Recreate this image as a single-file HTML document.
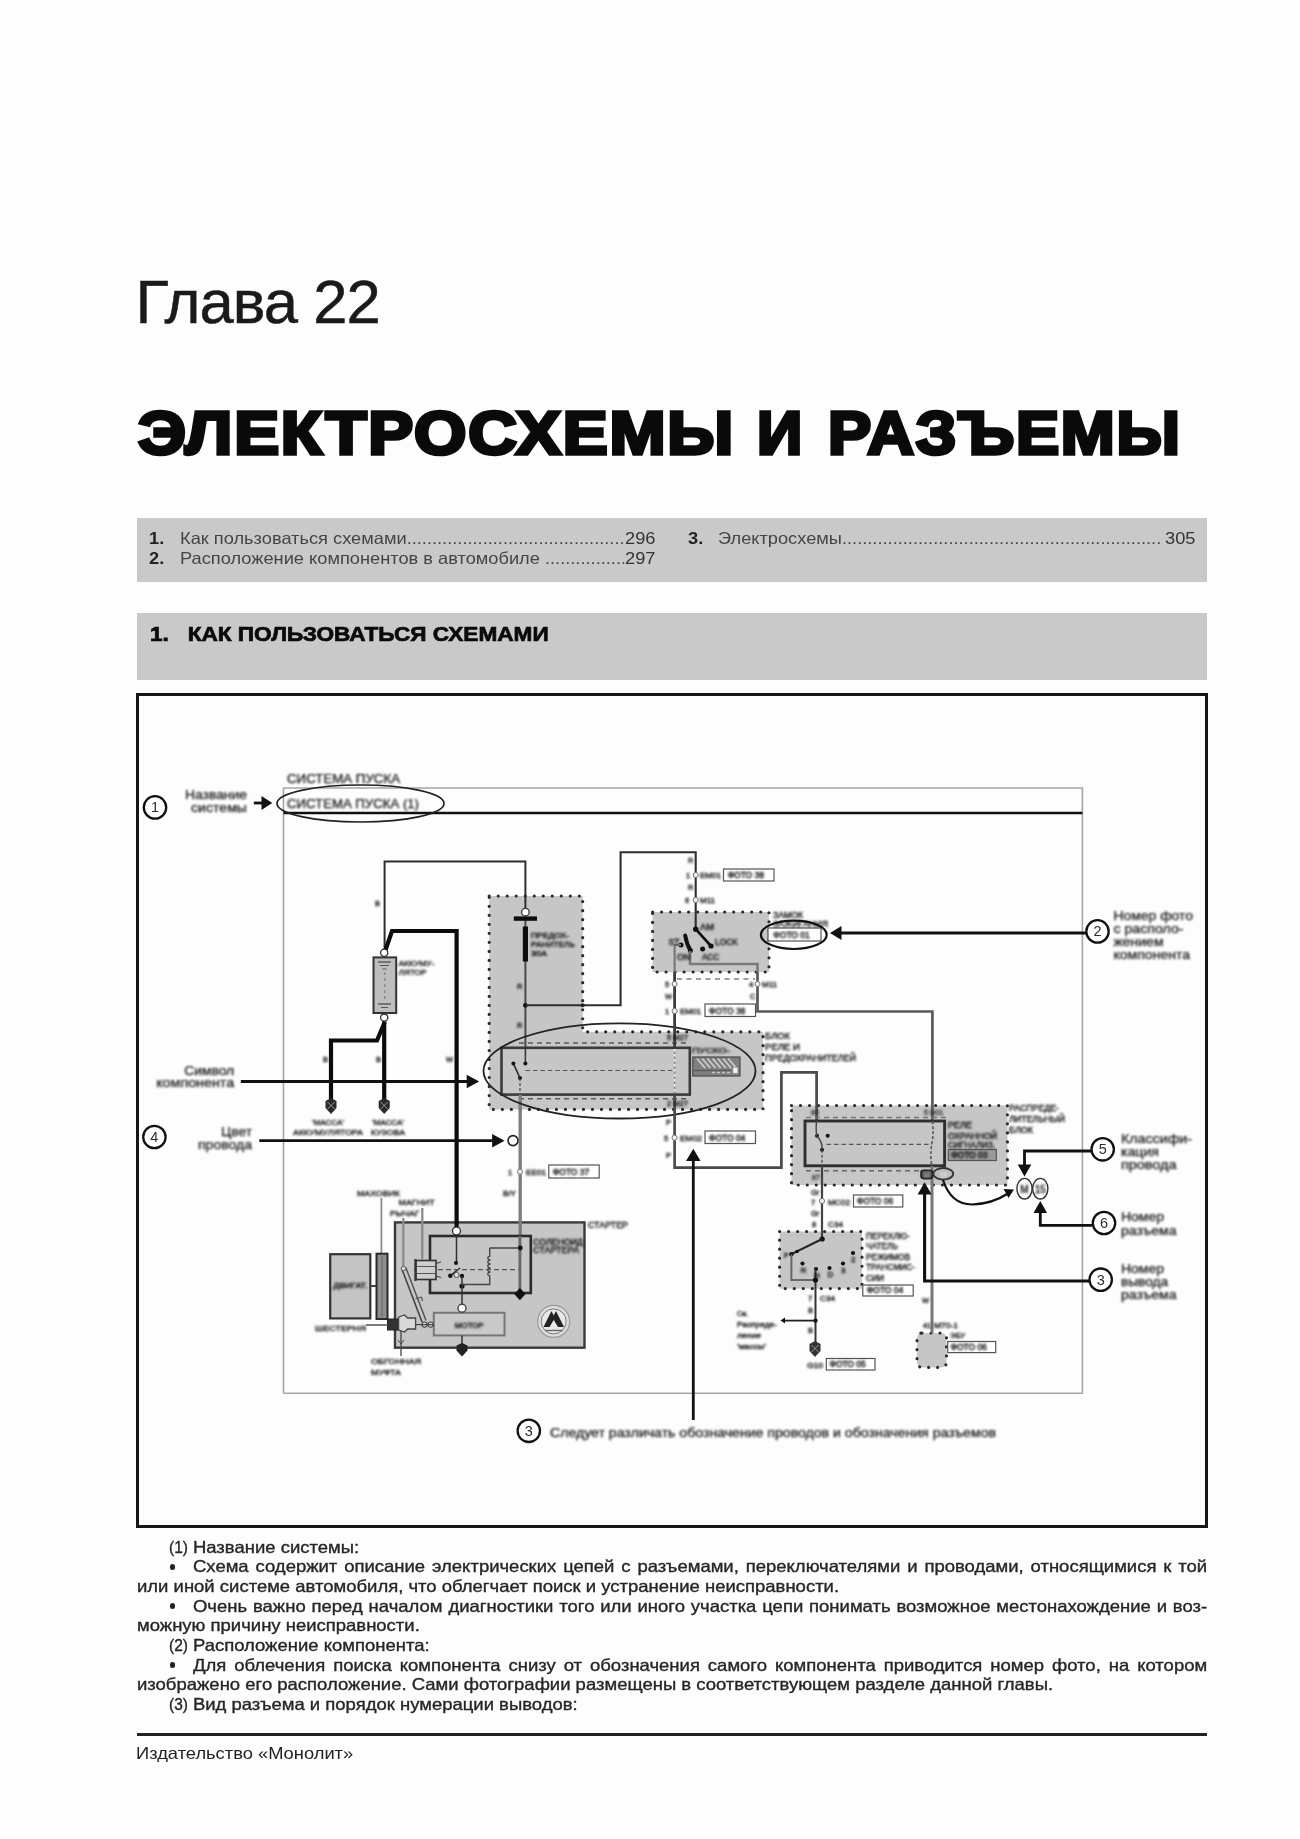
<!DOCTYPE html>
<html lang="ru">
<head>
<meta charset="utf-8">
<title>Глава 22</title>
<style>
html,body{margin:0;padding:0;background:#fdfdfd;}
body{width:1300px;height:1839px;position:relative;overflow:hidden;font-family:"Liberation Sans",sans-serif;color:#111;}
.abs{position:absolute;white-space:nowrap;}
#chap{left:135.5px;top:268px;font-size:61.5px;line-height:68px;color:#1a1a1a;letter-spacing:-0.9px;-webkit-text-stroke:0.5px #1a1a1a;}
.ttl{top:396.90px;font-size:60.7px;line-height:72px;font-weight:bold;color:#0a0a0a;transform-origin:0 0;-webkit-text-stroke:3.6px #0a0a0a;letter-spacing:1.6px;}
#toc{left:137px;top:518px;width:1070px;height:64px;background:#c9c9c9;}
#sec{left:137px;top:613px;width:1070px;height:67px;background:#c9c9c9;}
#frame{left:135.8px;top:692.5px;width:1066.5px;height:829px;border:3px solid #161616;box-sizing:content-box;}
.t16{font-size:16.5px;line-height:19px;transform:scaleX(1.1055);transform-origin:0 0;}
.bd{color:#262626;transform:scaleX(1.12);-webkit-text-stroke:0.35px #262626;}
.bd i{font-style:normal;margin-right:-3.4px;display:inline-block;transform:scaleX(0.84);transform-origin:0 0;}
.bl{width:5.4px;height:5.4px;margin:-0.4px 0 0 -0.4px;border-radius:50%;background:#222;}
.jl{text-align:justify;text-align-last:justify;white-space:normal;height:19px;overflow:hidden;}
#sech{left:150px;top:621px;font-size:20px;line-height:26px;font-weight:bold;color:#0a0a0a;-webkit-text-stroke:0.7px #0a0a0a;transform:scaleX(1.13);transform-origin:0 0;}
#dg{}
#footline{left:137px;top:1733.3px;width:1070px;height:2.5px;background:#222;}
#foot{left:135.5px;top:1743.9px;font-size:16.5px;line-height:18px;color:#222;transform:scaleX(1.11);transform-origin:0 0;}
</style>
</head>
<body>
<div class="abs" id="chap">Глава 22</div>
<div class="abs ttl" style="left:137.50px;transform:scaleX(1.1096);">ЭЛЕКТРОСХЕМЫ</div>
<div class="abs ttl" style="left:757.22px;transform:scaleX(1.0369);">И</div>
<div class="abs ttl" style="left:828.43px;transform:scaleX(1.0665);">РАЗЪЕМЫ</div>
<div class="abs" id="toc"></div>
<div class="abs" id="sec"></div>
<div class="abs" id="sech">1.&nbsp;&nbsp; КАК ПОЛЬЗОВАТЬСЯ СХЕМАМИ</div>
<div class="abs" id="frame"></div>
<!--DG0--><svg class="abs" id="dg" style="left:0;top:0" width="1300" height="1839" viewBox="0 0 1300 1839" font-family="Liberation Sans, sans-serif">
<path d="M283.5 1393.2 L283.5 788.0 L1082.4 788.0 L1082.4 1393.2 L283.5 1393.2" fill="none" stroke="#a6a6a6" stroke-width="1.6" />
<path d="M283.5 813.0 L1082.4 813.0" fill="none" stroke="#111" stroke-width="2.6" />
<ellipse cx="360.5" cy="803.5" rx="83.5" ry="18.5" fill="none" stroke="#222" stroke-width="1.7"/>
<circle cx="155.0" cy="807.4" r="11.2" fill="#fff" stroke="#111" stroke-width="2.3"/>
<text x="155.0" y="812.4" font-size="14.5" text-anchor="middle" fill="#2a2a2a" opacity=".99">1</text>
<path d="M253.8 803.0 L264.0 803.0" fill="none" stroke="#111" stroke-width="2.8" />
<polygon points="272.3,803.0 261.5,796.0 261.5,810.0" fill="#111"/>
<path d="M489.2 896 H582.7 V1031.8 H763 V1109.4 H489.2 Z" fill="#c6c6c6" stroke="#2a2a2a" stroke-width="3.2" stroke-dasharray="0.01 9" stroke-linecap="round"/>
<rect x="652.6" y="912.0" width="116.4" height="60.0" fill="#c6c6c6" stroke="#2a2a2a" stroke-width="3.2" stroke-dasharray="0.01 9" stroke-linecap="round"/>
<rect x="791.5" y="1105.5" width="215.9" height="79.5" fill="#c6c6c6" stroke="#2a2a2a" stroke-width="3.2" stroke-dasharray="0.01 9" stroke-linecap="round"/>
<rect x="779.6" y="1231.5" width="82.4" height="57.1" fill="#c6c6c6" stroke="#2a2a2a" stroke-width="3.2" stroke-dasharray="0.01 9" stroke-linecap="round"/>
<rect x="917" y="1333" width="29.5" height="34.4" rx="5" fill="#c6c6c6" stroke="#2a2a2a" stroke-width="3.1" stroke-dasharray="0.01 9" stroke-linecap="round"/>
<rect x="395.0" y="1222.4" width="189.5" height="125.3" fill="#c6c6c6" stroke="#3a3a3a" stroke-width="2.4" />
<path d="M384.6 950.0 L384.6 861.5 L525.4 861.5 L525.4 909.0" fill="none" stroke="#2e2e2e" stroke-width="2" />
<path d="M385.5 950.0 L392.0 931.0 L456.6 931.0 L456.6 1227.0" fill="none" stroke="#0c0c0c" stroke-width="4.2" stroke-linejoin="miter"/>
<rect x="373.5" y="957.4" width="22.7" height="55.6" fill="#bdbdbd" stroke="#333" stroke-width="2" />
<path d="M378.0 962.0 L391.0 962.0" fill="none" stroke="#444" stroke-width="1.2" />
<path d="M380.0 965.5 L389.0 965.5" fill="none" stroke="#555" stroke-width="1" />
<path d="M382.5 969.0 L386.5 969.0" fill="none" stroke="#555" stroke-width="1" />
<path d="M384.8 972.0 L384.8 1000.0" fill="none" stroke="#777" stroke-width="1" stroke-dasharray="3 3"/>
<path d="M378.0 1004.0 L391.0 1004.0" fill="none" stroke="#444" stroke-width="1.2" />
<path d="M381.0 1007.5 L388.0 1007.5" fill="none" stroke="#555" stroke-width="1" />
<circle cx="384.2" cy="952.8" r="3.6" fill="#fff" stroke="#333" stroke-width="1.3"/>
<circle cx="384.2" cy="1017.6" r="3.6" fill="#fff" stroke="#333" stroke-width="1.3"/>
<path d="M384.2 1021.5 L384.2 1100.0" fill="none" stroke="#0c0c0c" stroke-width="4.2" />
<path d="M384.8 1022.0 L377.0 1040.5 L331.0 1040.5 L331.0 1100.0" fill="none" stroke="#0c0c0c" stroke-width="4.2" stroke-linejoin="miter"/>
<path d="M331.0 1098 l5.5 3 v7 l-5.5 6 l-5.5 -6 v-7 z" fill="#2a2a2a"/>
<path d="M327.5 1102.0 L334.5 1109.0" fill="none" stroke="#999" stroke-width="1" />
<path d="M334.5 1102.0 L327.5 1109.0" fill="none" stroke="#999" stroke-width="1" />
<path d="M384.2 1098 l5.5 3 v7 l-5.5 6 l-5.5 -6 v-7 z" fill="#2a2a2a"/>
<path d="M380.7 1102.0 L387.7 1109.0" fill="none" stroke="#999" stroke-width="1" />
<path d="M387.7 1102.0 L380.7 1109.0" fill="none" stroke="#999" stroke-width="1" />
<path d="M525.4 916.0 L525.4 1048.0" fill="none" stroke="#4a4a4a" stroke-width="2" />
<path d="M513.8 918.6 L537.0 918.6" fill="none" stroke="#0c0c0c" stroke-width="4.4" />
<path d="M525.4 926.5 L525.4 961.5" fill="none" stroke="#0c0c0c" stroke-width="5.2" />
<circle cx="525.4" cy="912.2" r="3.8" fill="#fff" stroke="#333" stroke-width="1.3"/>
<circle cx="525.4" cy="1005.3" r="2.4" fill="#111"/>
<path d="M525.4 1005.3 L620.6 1005.3 L620.6 852.2 L695.7 852.2 L695.7 929.0" fill="none" stroke="#2e2e2e" stroke-width="2.1" />
<circle cx="582.7" cy="1005.3" r="2.0" fill="#222"/>
<path d="M519.0 1043.0 L690.0 1043.0" fill="none" stroke="#5a5a5a" stroke-width="1.5" stroke-dasharray="5 4"/>
<path d="M519.0 1098.8 L690.0 1098.8" fill="none" stroke="#5a5a5a" stroke-width="1.5" stroke-dasharray="5 4"/>
<rect x="501.5" y="1047.8" width="188.3" height="46.8" fill="none" stroke="#3a3a3a" stroke-width="2.6" />
<path d="M525.4 1048.0 L525.4 1063.5" fill="none" stroke="#333" stroke-width="1.5" />
<circle cx="525.4" cy="1063.5" r="2.0" fill="#111"/>
<circle cx="513.4" cy="1063.5" r="2.0" fill="#111"/>
<circle cx="520.0" cy="1078.0" r="2.0" fill="#111"/>
<path d="M513.4 1063.5 L520.0 1078.0" fill="none" stroke="#222" stroke-width="1.6" />
<path d="M520.0 1078.0 L520.0 1094.0" fill="none" stroke="#444" stroke-width="1.2" stroke-dasharray="3 2"/>
<path d="M525.4 1070.5 L676.0 1070.5" fill="none" stroke="#555" stroke-width="1.2" stroke-dasharray="4.5 3"/>
<path d="M674.6 1049.0 L674.6 1093.0" fill="none" stroke="#888" stroke-width="1.4" />
<path d="M674.6 1049.0 L674.6 1093.0" fill="none" stroke="#eee" stroke-width="1.8" stroke-dasharray="2.5 2.5"/>
<path d="M520.2 1094.6 L520.2 1236.0" fill="none" stroke="#7c7c7c" stroke-width="3.3" />
<ellipse cx="619.5" cy="1070.9" rx="136.0" ry="47.6" fill="none" stroke="#222" stroke-width="1.8"/>
<rect x="692.8" y="1057.0" width="47.2" height="19.0" fill="#808080" stroke="#4a4a4a" stroke-width="1.2" />
<path d="M697.0 1058.5 L705.0 1068.0" fill="none" stroke="#d0d0d0" stroke-width="1.6" />
<path d="M702.2 1058.5 L710.2 1068.0" fill="none" stroke="#d0d0d0" stroke-width="1.6" />
<path d="M707.4 1058.5 L715.4 1068.0" fill="none" stroke="#d0d0d0" stroke-width="1.6" />
<path d="M712.6 1058.5 L720.6 1068.0" fill="none" stroke="#d0d0d0" stroke-width="1.6" />
<path d="M717.8 1058.5 L725.8 1068.0" fill="none" stroke="#d0d0d0" stroke-width="1.6" />
<path d="M723.0 1058.5 L731.0 1068.0" fill="none" stroke="#d0d0d0" stroke-width="1.6" />
<path d="M728.2 1058.5 L736.2 1068.0" fill="none" stroke="#d0d0d0" stroke-width="1.6" />
<path d="M694.0 1070.5 L731.0 1070.5" fill="none" stroke="#5a5a5a" stroke-width="1.6" />
<path d="M712.0 1072.5 L731.0 1072.5" fill="none" stroke="#c8c8c8" stroke-width="1.4" stroke-dasharray="3 2"/>
<rect x="733.0" y="1067.5" width="4.8" height="5.7" fill="#f4f4f4" stroke="#999" stroke-width="0.6" />
<circle cx="513.0" cy="1140.6" r="5.0" fill="#fff" stroke="#222" stroke-width="1.6"/>
<circle cx="520.0" cy="1171.7" r="2.6" fill="#eee" stroke="#777" stroke-width="1"/>
<rect x="548.8" y="1165.0" width="50.4" height="13.0" fill="#fff" stroke="#555" stroke-width="1.2" />
<circle cx="695.7" cy="875.0" r="2.6" fill="#eee" stroke="#777" stroke-width="1"/>
<rect x="723.5" y="869.0" width="50.5" height="12.0" fill="#fff" stroke="#555" stroke-width="1.2" />
<circle cx="695.7" cy="900.0" r="2.6" fill="#eee" stroke="#777" stroke-width="1"/>
<circle cx="695.7" cy="929.2" r="2.7" fill="#111"/>
<path d="M695.7 929.2 L711.0 946.0" fill="none" stroke="#111" stroke-width="2.6" />
<circle cx="681.0" cy="945.0" r="2.5" fill="#111"/>
<path d="M685.2 935.5 Q686.5 944 690.5 950.5" fill="none" stroke="#111" stroke-width="4" stroke-linecap="round"/>
<circle cx="690.3" cy="950.5" r="2.5" fill="#111"/>
<circle cx="702.6" cy="949.0" r="2.5" fill="#111"/>
<circle cx="711.0" cy="946.0" r="2.6" fill="#111"/>
<path d="M681.0 945.0 L674.6 945.0 L674.6 1236.0" fill="none" stroke="none" stroke-width="0" />
<path d="M681.0 945.0 L674.6 945.0 L674.6 972.0" fill="none" stroke="#7a7a7a" stroke-width="2.2" />
<path d="M674.6 972.0 L674.6 1047.0" fill="none" stroke="#3c3c3c" stroke-width="2.8" />
<path d="M674.6 1095.0 L674.6 1167.7 L781.4 1167.7 L781.4 1072.3 L816.6 1072.3 L816.6 1121.0" fill="none" stroke="#4a4a4a" stroke-width="2.7" />
<path d="M690.0 951.0 L690.0 964.0 L757.5 964.0 L757.5 972.0" fill="none" stroke="#7a7a7a" stroke-width="2.5" />
<path d="M757.5 972.0 L757.5 1011.5 L932.4 1011.5 L932.4 1121.0" fill="none" stroke="#5a5a5a" stroke-width="2.7" />
<path d="M677.0 979.0 L755.0 979.0" fill="none" stroke="#808080" stroke-width="1.6" stroke-dasharray="5 4.5"/>
<circle cx="674.6" cy="984.0" r="2.6" fill="#eee" stroke="#777" stroke-width="1"/>
<circle cx="757.5" cy="984.0" r="2.6" fill="#eee" stroke="#777" stroke-width="1"/>
<circle cx="674.6" cy="1011.0" r="2.6" fill="#eee" stroke="#777" stroke-width="1"/>
<rect x="705.0" y="1004.0" width="50.5" height="12.5" fill="#fff" stroke="#555" stroke-width="1.2" />
<circle cx="674.6" cy="1137.7" r="2.6" fill="#eee" stroke="#777" stroke-width="1"/>
<rect x="705.0" y="1131.0" width="50.5" height="12.5" fill="#fff" stroke="#555" stroke-width="1.2" />
<rect x="768.0" y="928.0" width="53.0" height="13.0" fill="#fff" stroke="#555" stroke-width="1.2" />
<ellipse cx="793.8" cy="934.8" rx="32.9" ry="14.2" fill="none" stroke="#111" stroke-width="2.2"/>
<path d="M1086.0 933.0 L840.0 933.0" fill="none" stroke="#111" stroke-width="2.8" />
<polygon points="830.0,933.0 841.5,926.0 841.5,940.0" fill="#111"/>
<circle cx="1097.5" cy="931.4" r="11.2" fill="#fff" stroke="#111" stroke-width="2.3"/>
<text x="1097.5" y="936.4" font-size="14.5" text-anchor="middle" fill="#2a2a2a" opacity=".99">2</text>
<path d="M806.0 1117.5 L946.0 1117.5" fill="none" stroke="#777" stroke-width="1.3" stroke-dasharray="5 4"/>
<path d="M806.0 1170.8 L921.0 1170.8" fill="none" stroke="#666" stroke-width="1.4" stroke-dasharray="5 4"/>
<rect x="805.0" y="1121.0" width="139.6" height="44.8" fill="none" stroke="#2e2e2e" stroke-width="2.9" />
<path d="M826.5 1144.4 L932.0 1144.4" fill="none" stroke="#555" stroke-width="1.2" stroke-dasharray="4.5 3"/>
<circle cx="817.0" cy="1135.8" r="2.0" fill="#111"/>
<circle cx="827.7" cy="1135.8" r="2.0" fill="#111"/>
<circle cx="822.0" cy="1149.8" r="2.0" fill="#111"/>
<path d="M816.6 1121 Q815.5 1130 817 1135.8 Q823 1143 822 1149.8" fill="none" stroke="#444" stroke-width="1.4"/>
<path d="M822.0 1149.8 L822.0 1165.0" fill="none" stroke="#444" stroke-width="1.2" stroke-dasharray="3 2"/>
<path d="M932.4 1121 Q934 1135 931.5 1145 Q930 1158 932 1166" fill="none" stroke="#555" stroke-width="1.6" stroke-dasharray="3 2"/>
<rect x="948.3" y="1149.5" width="48.0" height="11.0" fill="#9a9a9a" stroke="#555" stroke-width="1.2" />
<path d="M822.0 1165.8 L822.0 1239.0" fill="none" stroke="#444" stroke-width="2.2" />
<circle cx="822.0" cy="1201.0" r="2.6" fill="#eee" stroke="#777" stroke-width="1"/>
<rect x="853.5" y="1195.0" width="49.3" height="12.0" fill="#fff" stroke="#555" stroke-width="1.2" />
<path d="M932.0 1166.0 L932.0 1333.0" fill="none" stroke="#777" stroke-width="3" />
<rect x="921" y="1170.3" width="11.5" height="8.3" rx="2.5" fill="#4a4a4a" stroke="#222" stroke-width="1.6"/>
<ellipse cx="943.3" cy="1173.8" rx="9.9" ry="5.8" fill="#bdbdbd" stroke="#333" stroke-width="1.8"/>
<path d="M943 1180 Q951 1204.5 972 1204.5 Q992 1204 1008 1193.5" fill="none" stroke="#111" stroke-width="2.2"/>
<polygon points="1014.0,1189.5 1003.5,1189.0 1008.5,1198.0" fill="#111"/>
<ellipse cx="1024.5" cy="1188.7" rx="7.6" ry="10.3" fill="#fff" stroke="#333" stroke-width="1.4"/>
<ellipse cx="1040.3" cy="1188.7" rx="7.6" ry="10.3" fill="#fff" stroke="#333" stroke-width="1.4"/>
<path d="M1091.0 1151.0 L1024.5 1151.0 L1024.5 1166.0" fill="none" stroke="#111" stroke-width="2.8" stroke-linejoin="miter"/>
<polygon points="1024.5,1176.5 1017.7,1164.5 1031.3,1164.5" fill="#111"/>
<circle cx="1102.7" cy="1149.3" r="11.2" fill="#fff" stroke="#111" stroke-width="2.3"/>
<text x="1102.7" y="1154.3" font-size="14.5" text-anchor="middle" fill="#2a2a2a" opacity=".99">5</text>
<path d="M1092.0 1225.3 L1040.3 1225.3 L1040.3 1211.0" fill="none" stroke="#111" stroke-width="2.8" stroke-linejoin="miter"/>
<polygon points="1040.3,1201.0 1033.5,1213.0 1047.1,1213.0" fill="#111"/>
<circle cx="1104.0" cy="1223.0" r="11.2" fill="#fff" stroke="#111" stroke-width="2.3"/>
<text x="1104.0" y="1228.0" font-size="14.5" text-anchor="middle" fill="#2a2a2a" opacity=".99">6</text>
<path d="M1089.0 1281.0 L924.6 1281.0 L924.6 1193.0" fill="none" stroke="#111" stroke-width="3.1" stroke-linejoin="miter"/>
<polygon points="924.6,1182.3 917.6,1194.5 931.6,1194.5" fill="#111"/>
<circle cx="1100.7" cy="1279.7" r="11.2" fill="#fff" stroke="#111" stroke-width="2.3"/>
<text x="1100.7" y="1284.7" font-size="14.5" text-anchor="middle" fill="#2a2a2a" opacity=".99">3</text>
<circle cx="822.2" cy="1239.0" r="2.6" fill="#111"/>
<path d="M822.2 1239.0 L791.4 1254.2" fill="none" stroke="#222" stroke-width="2" />
<circle cx="791.4" cy="1254.2" r="2.2" fill="#111"/>
<circle cx="797.0" cy="1251.5" r="1.8" fill="#111"/>
<circle cx="802.5" cy="1263.5" r="2.1" fill="#111"/>
<circle cx="816.0" cy="1269.0" r="2.1" fill="#111"/>
<circle cx="829.5" cy="1268.0" r="2.1" fill="#111"/>
<circle cx="843.0" cy="1263.5" r="2.1" fill="#111"/>
<circle cx="853.0" cy="1253.0" r="2.1" fill="#111"/>
<path d="M791.4 1254.2 L791.4 1280.0 L815.5 1280.0" fill="none" stroke="#666" stroke-width="2" />
<path d="M815.5 1269.0 L815.5 1345.0" fill="none" stroke="#333" stroke-width="2" />
<circle cx="815.5" cy="1280.0" r="2.6" fill="#111"/>
<rect x="862.8" y="1285.0" width="50.4" height="11.0" fill="#fff" stroke="#555" stroke-width="1.2" />
<circle cx="815.5" cy="1320.6" r="2.2" fill="#111"/>
<path d="M815.5 1320.6 L784.0 1320.6" fill="none" stroke="#222" stroke-width="1.8" />
<polygon points="780.5,1320.6 785.0,1317.6 785.0,1323.6" fill="#111"/>
<path d="M815 1341 l5.5 3 v7 l-5.5 6 l-5.5 -6 v-7 z" fill="#333"/>
<path d="M811.5 1345.0 L818.5 1352.0" fill="none" stroke="#999" stroke-width="1" />
<path d="M818.5 1345.0 L811.5 1352.0" fill="none" stroke="#999" stroke-width="1" />
<rect x="826.3" y="1358.5" width="48.7" height="11.5" fill="#fff" stroke="#555" stroke-width="1.2" />
<rect x="947.7" y="1341.5" width="48.0" height="11.1" fill="#fff" stroke="#555" stroke-width="1.2" />
<rect x="430.0" y="1236.0" width="100.8" height="57.0" fill="none" stroke="#2a2a2a" stroke-width="2.6" />
<circle cx="456.5" cy="1231.0" r="4.0" fill="#fff" stroke="#333" stroke-width="1.4"/>
<path d="M456.5 1235.0 L456.5 1263.0" fill="none" stroke="#333" stroke-width="1.5" />
<circle cx="456.0" cy="1263.0" r="2.0" fill="#111"/>
<circle cx="450.3" cy="1275.8" r="2.2" fill="#111"/>
<circle cx="462.0" cy="1276.0" r="2.2" fill="#111"/>
<circle cx="462.0" cy="1286.0" r="2.6" fill="#111"/>
<path d="M450.3 1275.8 L460.0 1268.0" fill="none" stroke="#222" stroke-width="1.5" />
<circle cx="456.5" cy="1275.0" r="2.6" fill="#ddd" stroke="#555" stroke-width="1"/>
<path d="M462.0 1276.0 L462.0 1304.0" fill="none" stroke="#333" stroke-width="1.5" />
<path d="M520.5 1248.0 L489.7 1248.0" fill="none" stroke="#444" stroke-width="1.5" />
<path d="M489.7 1248 v8 q-4 2 0 4 q-4 2 0 4 q-4 2 0 4 q-4 2 0 4 q-4 2 0 4 v8.5 H462" fill="none" stroke="#444" stroke-width="1.4"/>
<path d="M414.0 1269.7 L520.0 1269.7" fill="none" stroke="#555" stroke-width="1.2" stroke-dasharray="5 3"/>
<path d="M519.9 1236.0 L519.9 1293.0" fill="none" stroke="#6a6a6a" stroke-width="3" />
<circle cx="520.3" cy="1248.0" r="2.4" fill="#111"/>
<polygon points="519.9,1288.0 525.6,1294.0 519.9,1300.3 514.2,1294.0" fill="#111"/>
<rect x="416.0" y="1260.5" width="20.0" height="19.0" fill="#cfcfcf" stroke="#333" stroke-width="1.6" />
<path d="M415.4 1259.0 L415.4 1281.0" fill="none" stroke="#333" stroke-width="2.2" />
<path d="M417.0 1266.5 L435.0 1266.5" fill="none" stroke="#555" stroke-width="1" />
<path d="M417.0 1273.5 L435.0 1273.5" fill="none" stroke="#555" stroke-width="1" />
<path d="M436.0 1263.5 L441.0 1262.0" fill="none" stroke="#444" stroke-width="1.2" />
<path d="M436.0 1276.0 L441.0 1277.5" fill="none" stroke="#444" stroke-width="1.2" />
<path d="M401.5 1268.0 L422.0 1322.0" fill="none" stroke="#444" stroke-width="1.6" />
<path d="M405.8 1267.5 L426.0 1320.5" fill="none" stroke="#555" stroke-width="1.5" />
<circle cx="403.5" cy="1268.5" r="2.2" fill="#ddd" stroke="#555" stroke-width="1"/>
<path d="M415.5 1299.0 L421.5 1297.0" fill="none" stroke="#555" stroke-width="1.1" />
<path d="M421.5 1297.0 L422.5 1301.0" fill="none" stroke="#555" stroke-width="1.1" />
<path d="M403.3 1218.0 L403.3 1266.0" fill="none" stroke="#8c8c8c" stroke-width="2.3" />
<path d="M422.3 1208.0 L422.3 1260.0" fill="none" stroke="#8c8c8c" stroke-width="2.3" />
<path d="M381.4 1198.0 L381.4 1254.0" fill="none" stroke="#8c8c8c" stroke-width="1.8" />
<rect x="433.8" y="1312.8" width="70.7" height="22.6" fill="#c9c9c9" stroke="#777" stroke-width="2" />
<circle cx="462.0" cy="1308.3" r="4.0" fill="#fff" stroke="#444" stroke-width="1.4"/>
<path d="M462.0 1335.4 L462.0 1346.0" fill="none" stroke="#333" stroke-width="1.5" />
<path d="M462 1343 l5.5 2.5 v5 l-5.5 6 l-5.5 -6 v-5 z" fill="#222"/>
<rect x="330.2" y="1254.2" width="40.1" height="64.2" fill="#c4c4c4" stroke="#333" stroke-width="2.2" />
<path d="M370.3 1286.0 L376.5 1286.0" fill="none" stroke="#444" stroke-width="2" />
<rect x="376.5" y="1253.7" width="11.0" height="65.3" fill="#8e8e8e" stroke="#2a2a2a" stroke-width="2" />
<path d="M382.0 1256.0 L382.0 1317.0" fill="none" stroke="#666" stroke-width="1" />
<rect x="387.5" y="1319.0" width="11.1" height="11.0" fill="#333" stroke="#222" stroke-width="1" />
<path d="M366.0 1325.0 L388.0 1325.0" fill="none" stroke="#444" stroke-width="1.4" />
<path d="M398.6 1317 l6 -2 l3 3 h8 v11 h-8 l-3 3 l-6 -2 z" fill="#d8d8d8" stroke="#444" stroke-width="1.3"/>
<circle cx="424.5" cy="1324.6" r="2.6" fill="#ddd" stroke="#444" stroke-width="1.1"/>
<circle cx="430.6" cy="1324.6" r="2.6" fill="#ddd" stroke="#444" stroke-width="1.1"/>
<path d="M416.0 1324.6 L434.0 1324.6" fill="none" stroke="#444" stroke-width="1.2" />
<path d="M401.0 1331.0 L401.0 1356.0" fill="none" stroke="#444" stroke-width="1.3" />
<path d="M398.0 1340.0 L401.0 1344.0 L404.0 1340.0" fill="none" stroke="#444" stroke-width="1" />
<circle cx="553.7" cy="1321.4" r="16.0" fill="#dcdcdc" stroke="#999" stroke-width="1.2"/>
<circle cx="553.7" cy="1321.4" r="12.5" fill="#e8e8e8" stroke="#777" stroke-width="1"/>
<path d="M543.5 1327 L551.5 1311 L553.7 1315.5 L556 1311 L564 1327 L558 1327 L553.7 1320 L549.5 1327 Z" fill="#222"/>
<path d="M545.0 1330.5 L562.5 1330.5" fill="none" stroke="#666" stroke-width="1.4" />
<path d="M240.8 1081.5 L467.7 1081.5" fill="none" stroke="#111" stroke-width="2.8" />
<polygon points="479.2,1081.5 466.7,1074.7 466.7,1088.3" fill="#111"/>
<circle cx="154.4" cy="1137.0" r="11.2" fill="#fff" stroke="#111" stroke-width="2.3"/>
<text x="154.4" y="1142.0" font-size="14.5" text-anchor="middle" fill="#2a2a2a" opacity=".99">4</text>
<path d="M259.3 1140.7 L493.1 1140.7" fill="none" stroke="#111" stroke-width="2.8" />
<polygon points="504.6,1140.7 492.1,1133.9 492.1,1147.5" fill="#111"/>
<path d="M693.3 1420.0 L693.3 1159.0" fill="none" stroke="#111" stroke-width="2.8" />
<polygon points="693.3,1148.8 686.0,1161.0 700.6,1161.0" fill="#111"/>
<circle cx="528.8" cy="1430.8" r="11.2" fill="#fff" stroke="#111" stroke-width="2.3"/>
<text x="528.8" y="1435.8" font-size="14.5" text-anchor="middle" fill="#2a2a2a" opacity=".99">3</text>
<g style="filter:blur(0.8px)">
<text x="287.0" y="783.0" font-size="13" text-anchor="start" fill="#101010" textLength="113.0" lengthAdjust="spacingAndGlyphs" stroke="#101010" stroke-width="0.25">СИСТЕМА ПУСКА</text>
<text x="287.0" y="808.0" font-size="13" text-anchor="start" fill="#101010" textLength="132.0" lengthAdjust="spacingAndGlyphs" stroke="#101010" stroke-width="0.25">СИСТЕМА ПУСКА (1)</text>
<text x="247.0" y="799.0" font-size="13" text-anchor="end" fill="#141414" textLength="62.0" lengthAdjust="spacingAndGlyphs" stroke="#141414" stroke-width="0.25">Название</text>
<text x="247.0" y="812.0" font-size="13" text-anchor="end" fill="#141414" textLength="56.0" lengthAdjust="spacingAndGlyphs" stroke="#141414" stroke-width="0.25">системы</text>
<text x="375.0" y="906.0" font-size="7.5" text-anchor="start" fill="#141414" stroke="#141414" stroke-width="0.35">B</text>
<text x="398.5" y="966.0" font-size="8" text-anchor="start" fill="#141414" textLength="36.0" lengthAdjust="spacingAndGlyphs" stroke="#141414" stroke-width="0.35">АККУМУ-</text>
<text x="398.5" y="975.0" font-size="8" text-anchor="start" fill="#141414" textLength="28.0" lengthAdjust="spacingAndGlyphs" stroke="#141414" stroke-width="0.35">ЛЯТОР</text>
<text x="323.0" y="1062.0" font-size="7.5" text-anchor="start" fill="#141414" stroke="#141414" stroke-width="0.35">B</text>
<text x="376.0" y="1062.0" font-size="7.5" text-anchor="start" fill="#141414" stroke="#141414" stroke-width="0.35">B</text>
<text x="446.0" y="1062.0" font-size="7.5" text-anchor="start" fill="#141414" stroke="#141414" stroke-width="0.35">W</text>
<text x="328.0" y="1124.5" font-size="8" text-anchor="middle" fill="#141414" textLength="32.0" lengthAdjust="spacingAndGlyphs" stroke="#141414" stroke-width="0.35">'МАССА'</text>
<text x="328.0" y="1135.0" font-size="8" text-anchor="middle" fill="#141414" textLength="70.0" lengthAdjust="spacingAndGlyphs" stroke="#141414" stroke-width="0.35">АККУМУЛЯТОРА</text>
<text x="388.0" y="1124.5" font-size="8" text-anchor="middle" fill="#141414" textLength="32.0" lengthAdjust="spacingAndGlyphs" stroke="#141414" stroke-width="0.35">'МАССА'</text>
<text x="388.0" y="1135.0" font-size="8" text-anchor="middle" fill="#141414" textLength="34.0" lengthAdjust="spacingAndGlyphs" stroke="#141414" stroke-width="0.35">КУЗОВА</text>
<text x="531.0" y="938.0" font-size="8" text-anchor="start" fill="#0c0c0c" textLength="38.0" lengthAdjust="spacingAndGlyphs" stroke="#0c0c0c" stroke-width="0.35">ПРЕДОХ-</text>
<text x="531.0" y="947.0" font-size="8" text-anchor="start" fill="#0c0c0c" textLength="44.0" lengthAdjust="spacingAndGlyphs" stroke="#0c0c0c" stroke-width="0.35">РАНИТЕЛЬ</text>
<text x="531.0" y="956.0" font-size="8" text-anchor="start" fill="#0c0c0c" textLength="16.0" lengthAdjust="spacingAndGlyphs" stroke="#0c0c0c" stroke-width="0.35">30А</text>
<text x="517.0" y="989.0" font-size="7.5" text-anchor="start" fill="#141414" stroke="#141414" stroke-width="0.35">R</text>
<text x="517.0" y="1028.0" font-size="7.5" text-anchor="start" fill="#141414" stroke="#141414" stroke-width="0.35">R</text>
<text x="692.0" y="1053.0" font-size="8" text-anchor="start" fill="#141414" textLength="38.0" lengthAdjust="spacingAndGlyphs" stroke="#141414" stroke-width="0.35">ПУСКО-</text>
<text x="667.0" y="1040.0" font-size="7.5" text-anchor="start" fill="#141414" stroke="#141414" stroke-width="0.35">5 M27</text>
<text x="667.0" y="1105.5" font-size="7.5" text-anchor="start" fill="#141414" stroke="#141414" stroke-width="0.35">2 M27</text>
<text x="765.0" y="1038.5" font-size="9" text-anchor="start" fill="#0c0c0c" textLength="25.0" lengthAdjust="spacingAndGlyphs" stroke="#0c0c0c" stroke-width="0.35">БЛОК</text>
<text x="765.0" y="1049.5" font-size="9" text-anchor="start" fill="#0c0c0c" textLength="35.0" lengthAdjust="spacingAndGlyphs" stroke="#0c0c0c" stroke-width="0.35">РЕЛЕ И</text>
<text x="765.0" y="1060.5" font-size="9" text-anchor="start" fill="#0c0c0c" textLength="91.0" lengthAdjust="spacingAndGlyphs" stroke="#0c0c0c" stroke-width="0.35">ПРЕДОХРАНИТЕЛЕЙ</text>
<text x="508.0" y="1175.0" font-size="7.5" text-anchor="start" fill="#141414" stroke="#141414" stroke-width="0.35">1</text>
<text x="526.0" y="1175.0" font-size="7.5" text-anchor="start" fill="#141414" textLength="20.0" lengthAdjust="spacingAndGlyphs" stroke="#141414" stroke-width="0.35">EE01</text>
<text x="571.0" y="1175.4" font-size="8.5" text-anchor="middle" fill="#000" stroke="#000" stroke-width="0.35">ФОТО 37</text>
<text x="503.0" y="1196.0" font-size="7.5" text-anchor="start" fill="#141414" textLength="13.0" lengthAdjust="spacingAndGlyphs" stroke="#141414" stroke-width="0.35">B/Y</text>
<text x="688.0" y="863.0" font-size="7.5" text-anchor="start" fill="#141414" stroke="#141414" stroke-width="0.35">R</text>
<text x="686.0" y="878.0" font-size="7.5" text-anchor="start" fill="#141414" stroke="#141414" stroke-width="0.35">1</text>
<text x="700.0" y="878.0" font-size="7.5" text-anchor="start" fill="#141414" textLength="21.0" lengthAdjust="spacingAndGlyphs" stroke="#141414" stroke-width="0.35">EM01</text>
<text x="745.8" y="878.4" font-size="8.5" text-anchor="middle" fill="#000" stroke="#000" stroke-width="0.35">ФОТО 38</text>
<text x="688.0" y="890.0" font-size="7.5" text-anchor="start" fill="#141414" stroke="#141414" stroke-width="0.35">R</text>
<text x="685.0" y="903.0" font-size="7.5" text-anchor="start" fill="#141414" stroke="#141414" stroke-width="0.35">6</text>
<text x="700.0" y="903.0" font-size="7.5" text-anchor="start" fill="#141414" textLength="15.0" lengthAdjust="spacingAndGlyphs" stroke="#141414" stroke-width="0.35">M11</text>
<text x="700.0" y="929.5" font-size="8.5" text-anchor="start" fill="#0c0c0c" textLength="14.0" lengthAdjust="spacingAndGlyphs" stroke="#0c0c0c" stroke-width="0.35">AM</text>
<text x="715.0" y="944.5" font-size="8.5" text-anchor="start" fill="#0c0c0c" textLength="23.0" lengthAdjust="spacingAndGlyphs" stroke="#0c0c0c" stroke-width="0.35">LOCK</text>
<text x="668.5" y="944.5" font-size="8.5" text-anchor="start" fill="#0c0c0c" textLength="11.0" lengthAdjust="spacingAndGlyphs" stroke="#0c0c0c" stroke-width="0.35">ST</text>
<text x="677.0" y="960.0" font-size="8.5" text-anchor="start" fill="#0c0c0c" textLength="13.0" lengthAdjust="spacingAndGlyphs" stroke="#0c0c0c" stroke-width="0.35">ON</text>
<text x="702.0" y="960.0" font-size="8.5" text-anchor="start" fill="#0c0c0c" textLength="17.0" lengthAdjust="spacingAndGlyphs" stroke="#0c0c0c" stroke-width="0.35">ACC</text>
<text x="773.0" y="918.0" font-size="9" text-anchor="start" fill="#0c0c0c" textLength="30.0" lengthAdjust="spacingAndGlyphs" stroke="#0c0c0c" stroke-width="0.35">ЗАМОК</text>
<text x="773.0" y="927.0" font-size="9" text-anchor="start" fill="#0c0c0c" textLength="55.0" lengthAdjust="spacingAndGlyphs" stroke="#0c0c0c" stroke-width="0.35">ЗАЖИГАНИЯ</text>
<text x="665.0" y="987.0" font-size="7.5" text-anchor="start" fill="#141414" stroke="#141414" stroke-width="0.35">5</text>
<text x="749.0" y="987.0" font-size="7.5" text-anchor="start" fill="#141414" stroke="#141414" stroke-width="0.35">4</text>
<text x="762.0" y="987.0" font-size="7.5" text-anchor="start" fill="#141414" textLength="15.0" lengthAdjust="spacingAndGlyphs" stroke="#141414" stroke-width="0.35">M11</text>
<text x="665.0" y="999.0" font-size="7.5" text-anchor="start" fill="#141414" stroke="#141414" stroke-width="0.35">W</text>
<text x="750.0" y="999.0" font-size="7.5" text-anchor="start" fill="#141414" stroke="#141414" stroke-width="0.35">C</text>
<text x="665.0" y="1014.0" font-size="7.5" text-anchor="start" fill="#141414" stroke="#141414" stroke-width="0.35">1</text>
<text x="680.0" y="1014.0" font-size="7.5" text-anchor="start" fill="#141414" textLength="21.0" lengthAdjust="spacingAndGlyphs" stroke="#141414" stroke-width="0.35">EM01</text>
<text x="727.2" y="1013.9" font-size="8.5" text-anchor="middle" fill="#000" stroke="#000" stroke-width="0.35">ФОТО 38</text>
<text x="666.0" y="1125.0" font-size="7.5" text-anchor="start" fill="#141414" stroke="#141414" stroke-width="0.35">P</text>
<text x="664.0" y="1141.0" font-size="7.5" text-anchor="start" fill="#141414" stroke="#141414" stroke-width="0.35">5</text>
<text x="680.0" y="1141.0" font-size="7.5" text-anchor="start" fill="#141414" textLength="22.0" lengthAdjust="spacingAndGlyphs" stroke="#141414" stroke-width="0.35">EM02</text>
<text x="727.2" y="1140.9" font-size="8.5" text-anchor="middle" fill="#000" stroke="#000" stroke-width="0.35">ФОТО 04</text>
<text x="666.0" y="1158.0" font-size="7.5" text-anchor="start" fill="#141414" stroke="#141414" stroke-width="0.35">P</text>
<text x="791.5" y="938.4" font-size="8.5" text-anchor="middle" fill="#000" stroke="#000" stroke-width="0.35">ФОТО 01</text>
<text x="1113.5" y="920.0" font-size="13" text-anchor="start" fill="#141414" textLength="79.5" lengthAdjust="spacingAndGlyphs" stroke="#141414" stroke-width="0.25">Номер фото</text>
<text x="1113.5" y="933.0" font-size="13" text-anchor="start" fill="#141414" textLength="70.0" lengthAdjust="spacingAndGlyphs" stroke="#141414" stroke-width="0.25">с располо-</text>
<text x="1113.5" y="946.0" font-size="13" text-anchor="start" fill="#141414" textLength="50.0" lengthAdjust="spacingAndGlyphs" stroke="#141414" stroke-width="0.25">жением</text>
<text x="1113.5" y="959.0" font-size="13" text-anchor="start" fill="#141414" textLength="76.5" lengthAdjust="spacingAndGlyphs" stroke="#141414" stroke-width="0.25">компонента</text>
<text x="811.0" y="1115.0" font-size="7" text-anchor="start" fill="#3a3a3a" stroke="#3a3a3a" stroke-width="0.35">86</text>
<text x="924.0" y="1115.0" font-size="7" text-anchor="start" fill="#3a3a3a" stroke="#3a3a3a" stroke-width="0.35">5  M01</text>
<text x="948.0" y="1128.0" font-size="9" text-anchor="start" fill="#0c0c0c" textLength="24.0" lengthAdjust="spacingAndGlyphs" stroke="#0c0c0c" stroke-width="0.35">РЕЛЕ</text>
<text x="948.0" y="1138.5" font-size="9" text-anchor="start" fill="#0c0c0c" textLength="49.0" lengthAdjust="spacingAndGlyphs" stroke="#0c0c0c" stroke-width="0.35">ОХРАННОЙ</text>
<text x="948.0" y="1148.0" font-size="9" text-anchor="start" fill="#0c0c0c" textLength="47.0" lengthAdjust="spacingAndGlyphs" stroke="#0c0c0c" stroke-width="0.35">СИГНАЛИЗ.</text>
<text x="969.3" y="1157.9" font-size="8.5" text-anchor="middle" fill="#000" stroke="#000" stroke-width="0.35">ФОТО 03</text>
<text x="1009.0" y="1111.0" font-size="9" text-anchor="start" fill="#0c0c0c" textLength="50.0" lengthAdjust="spacingAndGlyphs" stroke="#0c0c0c" stroke-width="0.35">РАСПРЕДЕ-</text>
<text x="1009.0" y="1122.0" font-size="9" text-anchor="start" fill="#0c0c0c" textLength="56.0" lengthAdjust="spacingAndGlyphs" stroke="#0c0c0c" stroke-width="0.35">ЛИТЕЛЬНЫЙ</text>
<text x="1009.0" y="1133.0" font-size="9" text-anchor="start" fill="#0c0c0c" textLength="24.0" lengthAdjust="spacingAndGlyphs" stroke="#0c0c0c" stroke-width="0.35">БЛОК</text>
<text x="812.0" y="1180.0" font-size="7" text-anchor="start" fill="#3a3a3a" stroke="#3a3a3a" stroke-width="0.35">87</text>
<text x="811.0" y="1195.0" font-size="7.5" text-anchor="start" fill="#141414" stroke="#141414" stroke-width="0.35">Gr</text>
<text x="811.0" y="1205.0" font-size="7.5" text-anchor="start" fill="#141414" stroke="#141414" stroke-width="0.35">7</text>
<text x="828.0" y="1205.0" font-size="7.5" text-anchor="start" fill="#141414" textLength="22.0" lengthAdjust="spacingAndGlyphs" stroke="#141414" stroke-width="0.35">MC02</text>
<text x="875.1" y="1204.4" font-size="8.5" text-anchor="middle" fill="#000" stroke="#000" stroke-width="0.35">ФОТО 06</text>
<text x="811.0" y="1216.0" font-size="7.5" text-anchor="start" fill="#141414" stroke="#141414" stroke-width="0.35">Gr</text>
<text x="812.0" y="1227.0" font-size="7.5" text-anchor="start" fill="#141414" stroke="#141414" stroke-width="0.35">8</text>
<text x="828.0" y="1227.0" font-size="7.5" text-anchor="start" fill="#141414" textLength="15.0" lengthAdjust="spacingAndGlyphs" stroke="#141414" stroke-width="0.35">C34</text>
<text x="926.8" y="1177.3" font-size="6.5" text-anchor="middle" fill="#fff">12</text>
<text x="943.3" y="1176.5" font-size="6.5" text-anchor="middle" fill="#eee">15</text>
<text x="1024.5" y="1192.5" font-size="10" text-anchor="middle" fill="#0c0c0c" stroke="#0c0c0c" stroke-width="0.35">M</text>
<text x="1040.3" y="1192.5" font-size="10" text-anchor="middle" fill="#0c0c0c" stroke="#0c0c0c" stroke-width="0.35">15</text>
<text x="1121.0" y="1143.0" font-size="13" text-anchor="start" fill="#141414" textLength="71.0" lengthAdjust="spacingAndGlyphs" stroke="#141414" stroke-width="0.25">Классифи-</text>
<text x="1121.0" y="1156.0" font-size="13" text-anchor="start" fill="#141414" textLength="38.0" lengthAdjust="spacingAndGlyphs" stroke="#141414" stroke-width="0.25">кация</text>
<text x="1121.0" y="1169.0" font-size="13" text-anchor="start" fill="#141414" textLength="55.5" lengthAdjust="spacingAndGlyphs" stroke="#141414" stroke-width="0.25">провода</text>
<text x="1121.0" y="1221.0" font-size="13" text-anchor="start" fill="#141414" textLength="43.0" lengthAdjust="spacingAndGlyphs" stroke="#141414" stroke-width="0.25">Номер</text>
<text x="1121.0" y="1234.5" font-size="13" text-anchor="start" fill="#141414" textLength="55.5" lengthAdjust="spacingAndGlyphs" stroke="#141414" stroke-width="0.25">разъема</text>
<text x="1121.0" y="1272.5" font-size="13" text-anchor="start" fill="#141414" textLength="43.0" lengthAdjust="spacingAndGlyphs" stroke="#141414" stroke-width="0.25">Номер</text>
<text x="1121.0" y="1285.5" font-size="13" text-anchor="start" fill="#141414" textLength="47.0" lengthAdjust="spacingAndGlyphs" stroke="#141414" stroke-width="0.25">вывода</text>
<text x="1121.0" y="1298.7" font-size="13" text-anchor="start" fill="#141414" textLength="55.5" lengthAdjust="spacingAndGlyphs" stroke="#141414" stroke-width="0.25">разъема</text>
<text x="800.5" y="1272.5" font-size="8" text-anchor="start" fill="#0c0c0c" stroke="#0c0c0c" stroke-width="0.35">R</text>
<text x="814.0" y="1278.0" font-size="8" text-anchor="start" fill="#0c0c0c" stroke="#0c0c0c" stroke-width="0.35">N</text>
<text x="827.5" y="1277.0" font-size="8" text-anchor="start" fill="#0c0c0c" stroke="#0c0c0c" stroke-width="0.35">D</text>
<text x="841.0" y="1272.5" font-size="8" text-anchor="start" fill="#0c0c0c" stroke="#0c0c0c" stroke-width="0.35">3</text>
<text x="851.0" y="1262.0" font-size="8" text-anchor="start" fill="#0c0c0c" stroke="#0c0c0c" stroke-width="0.35">2</text>
<text x="784.0" y="1258.0" font-size="7" text-anchor="start" fill="#141414" stroke="#141414" stroke-width="0.35">P</text>
<text x="866.0" y="1238.5" font-size="9" text-anchor="start" fill="#0c0c0c" textLength="44.0" lengthAdjust="spacingAndGlyphs" stroke="#0c0c0c" stroke-width="0.35">ПЕРЕКЛЮ-</text>
<text x="866.0" y="1249.0" font-size="9" text-anchor="start" fill="#0c0c0c" textLength="32.0" lengthAdjust="spacingAndGlyphs" stroke="#0c0c0c" stroke-width="0.35">ЧАТЕЛЬ</text>
<text x="866.0" y="1259.5" font-size="9" text-anchor="start" fill="#0c0c0c" textLength="44.0" lengthAdjust="spacingAndGlyphs" stroke="#0c0c0c" stroke-width="0.35">РЕЖИМОВ</text>
<text x="866.0" y="1270.0" font-size="9" text-anchor="start" fill="#0c0c0c" textLength="49.0" lengthAdjust="spacingAndGlyphs" stroke="#0c0c0c" stroke-width="0.35">ТРАНСМИС-</text>
<text x="866.0" y="1281.0" font-size="9" text-anchor="start" fill="#0c0c0c" textLength="18.0" lengthAdjust="spacingAndGlyphs" stroke="#0c0c0c" stroke-width="0.35">СИИ</text>
<text x="885.0" y="1293.4" font-size="8.5" text-anchor="middle" fill="#000" stroke="#000" stroke-width="0.35">ФОТО 04</text>
<text x="808.0" y="1301.0" font-size="7.5" text-anchor="start" fill="#141414" stroke="#141414" stroke-width="0.35">7</text>
<text x="820.0" y="1301.0" font-size="7.5" text-anchor="start" fill="#141414" textLength="15.0" lengthAdjust="spacingAndGlyphs" stroke="#141414" stroke-width="0.35">C34</text>
<text x="808.0" y="1313.0" font-size="7.5" text-anchor="start" fill="#141414" stroke="#141414" stroke-width="0.35">B</text>
<text x="808.0" y="1333.0" font-size="7.5" text-anchor="start" fill="#141414" stroke="#141414" stroke-width="0.35">B</text>
<text x="737.0" y="1316.0" font-size="8" text-anchor="start" fill="#141414" textLength="11.0" lengthAdjust="spacingAndGlyphs" stroke="#141414" stroke-width="0.35">См.</text>
<text x="737.0" y="1327.0" font-size="8" text-anchor="start" fill="#141414" textLength="40.0" lengthAdjust="spacingAndGlyphs" stroke="#141414" stroke-width="0.35">Распреде-</text>
<text x="737.0" y="1338.0" font-size="8" text-anchor="start" fill="#141414" textLength="24.0" lengthAdjust="spacingAndGlyphs" stroke="#141414" stroke-width="0.35">ление</text>
<text x="737.0" y="1349.0" font-size="8" text-anchor="start" fill="#141414" textLength="29.0" lengthAdjust="spacingAndGlyphs" stroke="#141414" stroke-width="0.35">'массы'</text>
<text x="807.0" y="1368.0" font-size="7.5" text-anchor="start" fill="#141414" textLength="16.0" lengthAdjust="spacingAndGlyphs" stroke="#141414" stroke-width="0.35">G10</text>
<text x="847.6" y="1367.4" font-size="8.5" text-anchor="middle" fill="#000" stroke="#000" stroke-width="0.35">ФОТО 05</text>
<text x="922.0" y="1303.0" font-size="7.5" text-anchor="start" fill="#141414" stroke="#141414" stroke-width="0.35">W</text>
<text x="923.0" y="1327.5" font-size="7" text-anchor="start" fill="#141414" stroke="#141414" stroke-width="0.35">41</text>
<text x="934.0" y="1327.5" font-size="7" text-anchor="start" fill="#141414" textLength="24.0" lengthAdjust="spacingAndGlyphs" stroke="#141414" stroke-width="0.35">M70-1</text>
<text x="950.0" y="1338.0" font-size="8" text-anchor="start" fill="#141414" textLength="15.0" lengthAdjust="spacingAndGlyphs" stroke="#141414" stroke-width="0.35">ЭБУ</text>
<text x="968.7" y="1350.0" font-size="8.5" text-anchor="middle" fill="#000" stroke="#000" stroke-width="0.35">ФОТО 06</text>
<text x="469.0" y="1328.0" font-size="8" text-anchor="middle" fill="#0c0c0c" textLength="29.0" lengthAdjust="spacingAndGlyphs" stroke="#0c0c0c" stroke-width="0.35">МОТОР</text>
<text x="350.3" y="1288.0" font-size="8" text-anchor="middle" fill="#0c0c0c" textLength="34.0" lengthAdjust="spacingAndGlyphs" stroke="#0c0c0c" stroke-width="0.35">ДВИГАТ.</text>
<text x="357.0" y="1195.5" font-size="8" text-anchor="start" fill="#141414" textLength="43.0" lengthAdjust="spacingAndGlyphs" stroke="#141414" stroke-width="0.35">МАХОВИК</text>
<text x="398.6" y="1204.5" font-size="8" text-anchor="start" fill="#141414" textLength="36.0" lengthAdjust="spacingAndGlyphs" stroke="#141414" stroke-width="0.35">МАГНИТ</text>
<text x="390.0" y="1216.0" font-size="8" text-anchor="start" fill="#141414" textLength="29.5" lengthAdjust="spacingAndGlyphs" stroke="#141414" stroke-width="0.35">РЫЧАГ</text>
<text x="315.0" y="1330.5" font-size="8" text-anchor="start" fill="#141414" textLength="51.0" lengthAdjust="spacingAndGlyphs" stroke="#141414" stroke-width="0.35">ШЕСТЕРНЯ</text>
<text x="371.0" y="1364.0" font-size="8" text-anchor="start" fill="#141414" textLength="50.0" lengthAdjust="spacingAndGlyphs" stroke="#141414" stroke-width="0.35">ОБГОННАЯ</text>
<text x="371.0" y="1375.0" font-size="8" text-anchor="start" fill="#141414" textLength="30.0" lengthAdjust="spacingAndGlyphs" stroke="#141414" stroke-width="0.35">МУФТА</text>
<text x="588.0" y="1228.0" font-size="9" text-anchor="start" fill="#0c0c0c" textLength="40.0" lengthAdjust="spacingAndGlyphs" stroke="#0c0c0c" stroke-width="0.35">СТАРТЕР</text>
<text x="533.0" y="1244.5" font-size="8.5" text-anchor="start" fill="#0c0c0c" textLength="50.0" lengthAdjust="spacingAndGlyphs" stroke="#0c0c0c" stroke-width="0.35">СОЛЕНОИД</text>
<text x="533.0" y="1253.0" font-size="8.5" text-anchor="start" fill="#0c0c0c" textLength="46.0" lengthAdjust="spacingAndGlyphs" stroke="#0c0c0c" stroke-width="0.35">СТАРТЕРА</text>
<text x="234.2" y="1074.6" font-size="13" text-anchor="end" fill="#141414" textLength="50.0" lengthAdjust="spacingAndGlyphs" stroke="#141414" stroke-width="0.25">Символ</text>
<text x="234.2" y="1087.0" font-size="13" text-anchor="end" fill="#141414" textLength="78.0" lengthAdjust="spacingAndGlyphs" stroke="#141414" stroke-width="0.25">компонента</text>
<text x="252.0" y="1136.0" font-size="13" text-anchor="end" fill="#141414" textLength="31.0" lengthAdjust="spacingAndGlyphs" stroke="#141414" stroke-width="0.25">Цвет</text>
<text x="252.0" y="1148.5" font-size="13" text-anchor="end" fill="#141414" textLength="54.0" lengthAdjust="spacingAndGlyphs" stroke="#141414" stroke-width="0.25">провода</text>
<text x="550.0" y="1437.2" font-size="13" text-anchor="start" fill="#141414" textLength="446.0" lengthAdjust="spacingAndGlyphs" stroke="#141414" stroke-width="0.25">Следует различать обозначение проводов и обозначения разъемов</text>
</g>
</svg><!--DG1-->
<div class="abs t16" style="left:149px;top:529px;color:#222;font-weight:bold;">1.</div>
<div class="abs t16" style="left:180px;top:529px;width:402.2px;overflow:hidden;color:#444;">Как пользоваться схемами.....................................................................................</div>
<div class="abs t16" style="left:625px;top:529px;color:#333;">296</div>
<div class="abs t16" style="left:149px;top:548.5px;color:#222;font-weight:bold;">2.</div>
<div class="abs t16" style="left:180px;top:548.5px;width:402.2px;overflow:hidden;color:#444;">Расположение компонентов в автомобиле ..................................................</div>
<div class="abs t16" style="left:625px;top:548.5px;color:#333;">297</div>
<div class="abs t16" style="left:688px;top:529px;color:#222;font-weight:bold;">3.</div>
<div class="abs t16" style="left:718px;top:529px;width:402.2px;overflow:hidden;color:#444;">Электросхемы........................................................................................................................</div>
<div class="abs t16" style="left:1165px;top:529px;color:#333;">305</div>

<!--B0-->
<div class="abs t16 bd" style="left:169px;top:1537.6px;"><i>(1)</i> Название системы:</div>
<div class="abs bl" style="left:170.4px;top:1564.5px;"></div>
<div class="abs t16 bd jl" style="left:192.8px;top:1557.2px;width:905.5px;">Схема содержит описание электрических цепей с разъемами, переключателями и проводами, относящимися к той</div>
<div class="abs t16 bd" style="left:136.5px;top:1576.9px;">или иной системе автомобиля, что облегчает поиск и устранение неисправности.</div>
<div class="abs bl" style="left:170.4px;top:1603.8px;"></div>
<div class="abs t16 bd jl" style="left:192.8px;top:1596.5px;width:905.5px;">Очень важно перед началом диагностики того или иного участка цепи понимать возможное местонахождение и воз-</div>
<div class="abs t16 bd" style="left:136.5px;top:1616.2px;">можную причину неисправности.</div>
<div class="abs t16 bd" style="left:169px;top:1635.8px;"><i>(2)</i> Расположение компонента:</div>
<div class="abs bl" style="left:170.4px;top:1662.7px;"></div>
<div class="abs t16 bd jl" style="left:192.8px;top:1655.5px;width:905.5px;">Для облечения поиска компонента снизу от обозначения самого компонента приводится номер фото, на котором</div>
<div class="abs t16 bd" style="left:136.5px;top:1675.1px;">изображено его расположение. Сами фотографии размещены в соответствующем разделе данной главы.</div>
<div class="abs t16 bd" style="left:169px;top:1694.8px;"><i>(3)</i> Вид разъема и порядок нумерации выводов:</div>
<!--B1-->

<div class="abs" id="footline"></div>
<div class="abs" id="foot">Издательство «Монолит»</div>
</body>
</html>
